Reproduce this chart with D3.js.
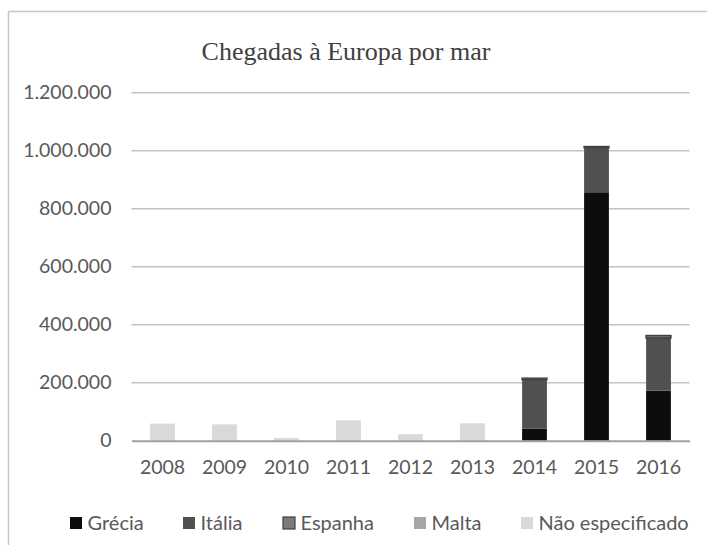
<!DOCTYPE html>
<html>
<head>
<meta charset="utf-8">
<script src="https://cdn.jsdelivr.net/npm/d3@7"></script>
<style>
  html, body { margin: 0; padding: 0; background: #fff; }
  svg { display: block; }
</style>
</head>
<body>
<svg id="chart" width="707" height="545"></svg>
<script>
// Sea arrivals to Europe by year and country of arrival
const years = ["2008", "2009", "2010", "2011", "2012", "2013", "2014", "2015", "2016"];
const seriesNames = ["Grécia", "Itália", "Espanha", "Malta", "Não especificado"];
const grecia = [0, 0, 0, 0, 0, 0, 41000, 856700, 173000];
const italia = [0, 0, 0, 0, 0, 0, 170100, 153800, 181400];
const espanha = [0, 0, 0, 0, 0, 0, 4500, 3800, 8200];
const malta = [0, 0, 0, 0, 0, 0, 570, 110, 30];
const naoEspecificado = [59000, 56250, 9700, 70000, 22500, 60000, 0, 0, 0];
const yTicks = [0, 200000, 400000, 600000, 800000, 1000000, 1200000];
const colors = ["#0d0d0d", "#505050", "#7a7a7a", "#a6a6a6", "#d9d9d9"];
const strokes = ["none", "none", "#404040", "none", "none"];

const seriesValues = [grecia, italia, espanha, malta, naoEspecificado];
const rows = years.map((y, i) => {
  const r = { year: y };
  seriesNames.forEach((n, k) => { r[n] = seriesValues[k][i]; });
  return r;
});

const svg = d3.select("#chart");
const fontSans = "Lato, 'Open Sans', sans-serif";

// outer frame (left and top edges)
svg.append("line").attr("x1", 8.5).attr("x2", 8.5).attr("y1", 11.5).attr("y2", 545)
  .attr("stroke", "#c8c8c8").attr("stroke-width", 1.5);
svg.append("line").attr("x1", 8.5).attr("x2", 707).attr("y1", 11.5).attr("y2", 11.5)
  .attr("stroke", "#c8c8c8").attr("stroke-width", 1.5);

// title
svg.append("text")
  .attr("x", 346).attr("y", 60)
  .attr("text-anchor", "middle")
  .attr("font-family", "'Liberation Serif', 'Times New Roman', serif")
  .attr("font-size", 26)
  .attr("fill", "#404040")
  .text("Chegadas à Europa por mar");

const x = d3.scaleBand().domain(years).range([131.5, 689.5]).paddingInner(0.6).paddingOuter(0.3);
const y = d3.scaleLinear().domain([0, 1200000]).range([440.7, 92.7]);

// gridlines
svg.append("g")
  .selectAll("line")
  .data(yTicks.slice(1))
  .join("line")
  .attr("x1", 131.5).attr("x2", 689.5)
  .attr("y1", d => y(d)).attr("y2", d => y(d))
  .attr("stroke", "#c3c3c3").attr("stroke-width", 1.5);

// y axis labels
const fmt = v => v === 0 ? "0" : d3.format(",")(v).replace(/,/g, ".");
const yAxis = d3.axisLeft(y).tickValues(yTicks).tickFormat(fmt).tickSize(0).tickPadding(20);
const gy = svg.append("g").attr("transform", "translate(131.5,0)").call(yAxis);
gy.select(".domain").remove();
gy.selectAll("text").attr("font-family", fontSans).attr("font-size", 19.5).attr("fill", "#595959");

// stacked bars
const stack = d3.stack().keys(seriesNames);
const stacked = stack(rows);
svg.append("g")
  .selectAll("g")
  .data(stacked)
  .join("g")
  .attr("fill", (d, i) => colors[i])
  .attr("stroke", (d, i) => strokes[i])
  .attr("stroke-width", 1.5)
  .selectAll("rect")
  .data(d => d.filter(s => s[1] - s[0] > 0))
  .join("rect")
  .attr("x", d => x(d.data.year))
  .attr("width", x.bandwidth())
  .attr("y", d => y(d[1]))
  .attr("height", d => y(d[0]) - y(d[1]));

// x axis
const xAxis = d3.axisBottom(x).tickSize(0).tickPadding(19.5);
const gx = svg.append("g").attr("transform", "translate(0,440.7)").call(xAxis);
gx.select(".domain").attr("stroke", "#a0a0a0").attr("stroke-width", 2);
gx.selectAll("text").attr("font-family", fontSans).attr("font-size", 19.5).attr("fill", "#595959");

// legend
const legendX = [70, 183, 283, 414, 521];
const legend = svg.append("g")
  .selectAll("g")
  .data(seriesNames)
  .join("g")
  .attr("transform", (d, i) => `translate(${legendX[i]},523)`);
legend.append("rect")
  .attr("x", 0).attr("y", -6).attr("width", 12).attr("height", 12)
  .attr("fill", (d, i) => colors[i])
  .attr("stroke", (d, i) => strokes[i])
  .attr("stroke-width", 1.2);
legend.append("text")
  .attr("x", 17.5).attr("y", 0).attr("dy", "0.35em")
  .attr("font-family", fontSans).attr("font-size", 20).attr("fill", "#595959")
  .text(d => d);
</script>
</body>
</html>
